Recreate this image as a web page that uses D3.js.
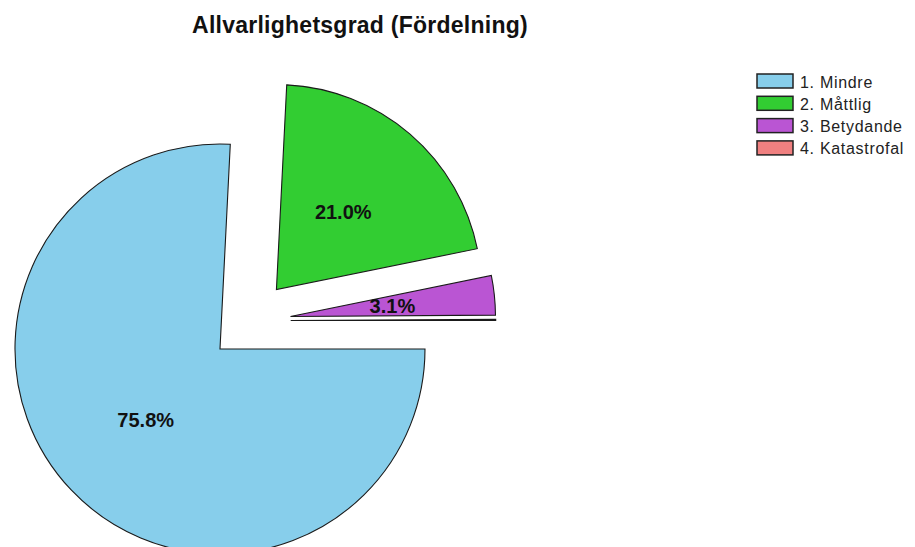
<!DOCTYPE html>
<html>
<head>
<meta charset="utf-8">
<script src="https://cdn.jsdelivr.net/npm/d3@7"></script>
<style>
  html, body { margin: 0; padding: 0; background: #ffffff; }
  svg { display: block; }
</style>
</head>
<body>
<svg id="chart" width="915" height="547"></svg>
<script>
const categories = ["1. Mindre", "2. Måttlig", "3. Betydande", "4. Katastrofal"];
const values = [75.8, 21.0, 3.1, 0.1];
const colors = ["#87CEEB", "#32CD32", "#BA55D3", "#F08080"];
const titleText = "Allvarlighetsgrad (Fördelning)";

const svg = d3.select("#chart");
const cx = 249.7, cy = 320.7, R = 205;
const explode = 0.2 * R;
const pctDistance = 0.5;

svg.append("text")
  .attr("x", 360).attr("y", 33)
  .attr("text-anchor", "middle")
  .attr("font-family", "Liberation Sans, Arial, sans-serif")
  .attr("font-weight", "bold")
  .attr("font-size", 23)
  .attr("letter-spacing", 0.25)
  .attr("fill", "#111")
  .text(titleText);

const data = categories.map((c, i) => ({ name: c, value: values[i], color: colors[i] }));
const total = d3.sum(values);

const pie = d3.pie()
  .sort(null)
  .value(d => d.value)
  .startAngle(Math.PI / 2)
  .endAngle(Math.PI / 2 + 2 * Math.PI);

const arc = d3.arc().innerRadius(0).outerRadius(R);

const arcs = pie(data);
const g = svg.append("g").attr("transform", `translate(${cx},${cy})`);

const slices = g.selectAll("g.slice").data(arcs).join("g")
  .attr("class", "slice")
  .attr("transform", d => {
    const mid = (d.startAngle + d.endAngle) / 2;
    return `translate(${explode * Math.sin(mid)},${-explode * Math.cos(mid)})`;
  });

slices.append("path")
  .attr("d", arc)
  .attr("fill", d => d.data.color)
  .attr("stroke", "#1a1a1a")
  .attr("stroke-width", 1.1)
  .attr("stroke-linejoin", "miter");

slices.filter(d => d.data.value / total * 100 >= 1)
  .append("text")
  .attr("x", d => { const m = (d.startAngle + d.endAngle) / 2; return pctDistance * R * Math.sin(m); })
  .attr("y", d => { const m = (d.startAngle + d.endAngle) / 2; return -pctDistance * R * Math.cos(m); })
  .attr("dy", "0.36em")
  .attr("text-anchor", "middle")
  .attr("font-family", "Liberation Sans, Arial, sans-serif")
  .attr("font-weight", "bold")
  .attr("font-size", 20)
  .attr("fill", "#111")
  .text(d => (d.data.value / total * 100).toFixed(1) + "%");

const legend = svg.append("g").attr("transform", "translate(757,74)");
const rowH = 22.3;
const items = legend.selectAll("g").data(data).join("g")
  .attr("transform", (d, i) => `translate(0,${i * rowH})`);
items.append("rect")
  .attr("x", 0).attr("y", 0).attr("width", 36).attr("height", 14)
  .attr("fill", d => d.color)
  .attr("stroke", "#222").attr("stroke-width", 1.5);
items.append("text")
  .attr("x", 43).attr("y", 13.5)
  .attr("font-family", "Liberation Sans, Arial, sans-serif")
  .attr("font-size", 16)
  .attr("letter-spacing", 0.7)
  .attr("fill", "#222")
  .text(d => d.name);
</script>
</body>
</html>
